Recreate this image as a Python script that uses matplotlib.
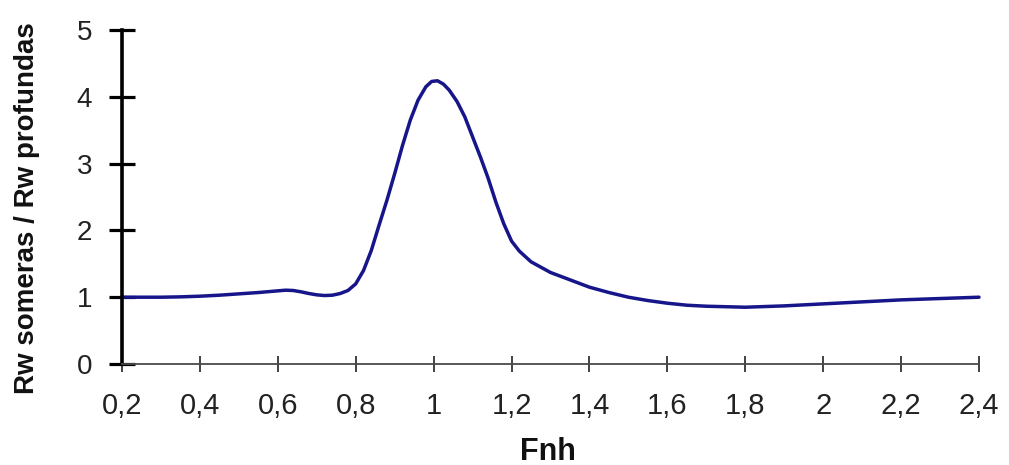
import matplotlib
matplotlib.use("Agg")
import matplotlib.pyplot as plt

# Data
fnh = [0.20, 0.25, 0.30, 0.35, 0.40, 0.45, 0.50, 0.55, 0.60, 0.62, 0.64, 0.66, 0.68,
       0.70, 0.72, 0.74, 0.76, 0.78, 0.80, 0.82, 0.84, 0.86, 0.88, 0.90, 0.92, 0.94,
       0.96, 0.98, 0.995, 1.01, 1.025, 1.04, 1.06, 1.08, 1.10, 1.12, 1.14, 1.16, 1.18,
       1.20, 1.22, 1.25, 1.30, 1.35, 1.40, 1.45, 1.50, 1.55, 1.60, 1.65, 1.70,
       1.80, 1.90, 2.00, 2.10, 2.20, 2.30, 2.40]
ratio = [1.00, 1.00, 1.00, 1.005, 1.015, 1.03, 1.05, 1.07, 1.095, 1.105, 1.10, 1.08, 1.055,
         1.035, 1.025, 1.03, 1.055, 1.10, 1.20, 1.40, 1.70, 2.08, 2.45, 2.85, 3.27, 3.65,
         3.95, 4.15, 4.23, 4.24, 4.19, 4.10, 3.93, 3.70, 3.40, 3.10, 2.78, 2.42, 2.10,
         1.84, 1.69, 1.53, 1.37, 1.26, 1.15, 1.07, 1.00, 0.95, 0.91, 0.88, 0.865,
         0.85, 0.87, 0.90, 0.93, 0.96, 0.98, 1.00]

x_ticks = [0.2, 0.4, 0.6, 0.8, 1.0, 1.2, 1.4, 1.6, 1.8, 2.0, 2.2, 2.4]
x_labels = ["0,2", "0,4", "0,6", "0,8", "1", "1,2", "1,4", "1,6", "1,8", "2", "2,2", "2,4"]
y_ticks = [0, 1, 2, 3, 4, 5]
y_labels = ["0", "1", "2", "3", "4", "5"]

plt.rcParams['font.family'] = ['Liberation Sans', 'DejaVu Sans']

fig = plt.figure(figsize=(10.09, 4.65), dpi=100)
ax = fig.add_axes([122/1009, 1 - 364/465, (979-122)/1009, (364-30)/465])

ax.plot(fnh, ratio, color="#16168a", lw=2.5, solid_capstyle="round",
        solid_joinstyle="round", clip_on=False)

ax.set_xlim(0.2, 2.4)
ax.set_ylim(0, 5)

for s in ["top", "right"]:
    ax.spines[s].set_visible(False)
ax.spines["left"].set_linewidth(2.6)
ax.spines["left"].set_color("black")
ax.spines["bottom"].set_linewidth(1.3)
ax.spines["bottom"].set_color("#4a4a4a")

ax.set_xticks(x_ticks)
ax.set_xticklabels(x_labels)
ax.set_yticks(y_ticks)
ax.set_yticklabels(y_labels)

ax.tick_params(axis="y", direction="inout", length=19, width=2.3, color="black",
               labelsize=20, pad=12, labelcolor="#222222")
ax.tick_params(axis="x", direction="inout", length=12, width=1.3, color="#333333",
               labelsize=21, pad=14, labelcolor="#222222")

fig.text(27/1009, 1 - 208/465, "Rw someras / Rw profundas", rotation=90,
         ha="center", va="center", fontsize=20, fontweight="bold", color="#111111")
fig.text(548/1009, 1 - 452/465, "Fnh", ha="center", va="center",
         fontsize=22, fontweight="bold", color="#111111")

fig.savefig("out.png", dpi=100, facecolor="white")
